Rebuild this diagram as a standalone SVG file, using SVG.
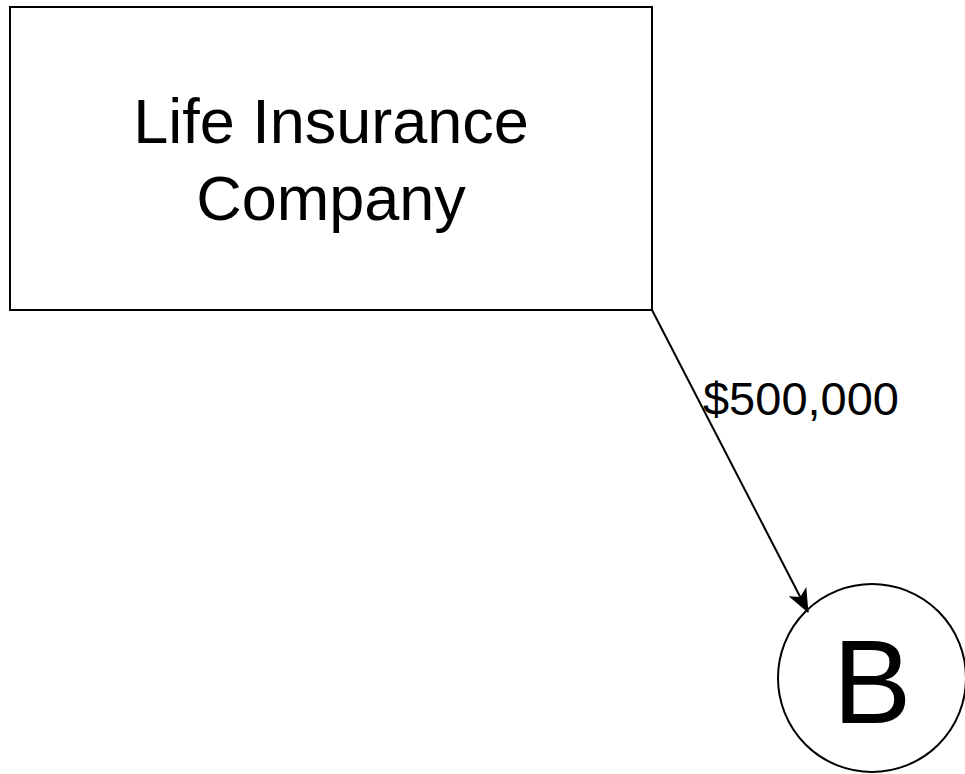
<svg xmlns="http://www.w3.org/2000/svg" width="965" height="774" viewBox="0 0 965 774">
<style>
.shape{fill:#fff;stroke:#000;stroke-width:2}
.t{font-family:"Liberation Sans",Arial,sans-serif;fill:#000;text-anchor:middle}
.edge{fill:none;stroke:#000;stroke-width:2}
</style>
<defs>
<marker id="arr" viewBox="0 0 24 20" refX="23" refY="10" markerWidth="24" markerHeight="20" markerUnits="userSpaceOnUse" orient="auto">
<path d="M0,0 L24,10 L0,20 L6,10 Z" fill="#000"/>
</marker>
</defs>
<rect width="965" height="774" fill="#fff"/>
<g id="company">
<rect class="shape" x="10" y="7" width="642" height="303"/>
<text class="t" x="331" y="143" font-size="63">Life Insurance</text>
<text class="t" x="331" y="220" font-size="63">Company</text>
</g>
<g id="b">
<circle class="shape" cx="872" cy="678" r="94"/>
<text class="t" x="872" y="723" font-size="118">B</text>
</g>
<g id="connectors">
<path class="edge" d="M652,310 L808,612" marker-end="url(#arr)"/>
<text class="t" x="801" y="415" font-size="47">$500,000</text>
</g>
</svg>
